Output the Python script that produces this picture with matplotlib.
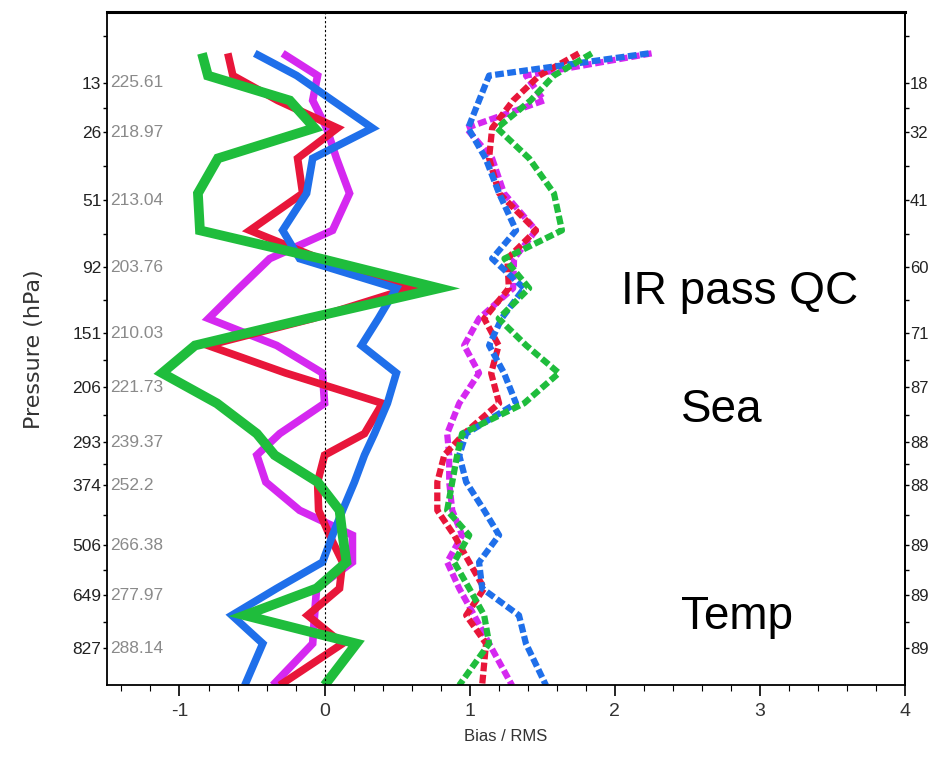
import matplotlib
matplotlib.use("Agg")
import matplotlib.pyplot as plt
import numpy as np

# vertical position of each profile point (0 = bottom of plot, 100 = top)
lev = [93.9, 90.6, 86.9, 82.8, 78.3, 73.1, 67.6, 63.4, 59.0, 54.5, 50.5, 46.4,
       41.9, 37.4, 34.2, 30.2, 26.0, 22.3, 18.3, 14.4, 10.4, 6.2, 0.0]

# labelled levels
lab_pos = [89.5, 82.2, 72.1, 62.1, 52.3, 44.3, 36.1, 29.7, 20.8, 13.4, 5.5]
pressure = ["13", "26", "51", "92", "151", "206", "293", "374", "506", "649", "827"]
mean_val = ["225.61", "218.97", "213.04", "203.76", "210.03", "221.73",
            "239.37", "252.2", "266.38", "277.97", "288.14"]
counts = ["18", "32", "41", "60", "71", "87", "88", "88", "89", "89", "89"]

# bias (solid)
bias_magenta = [-0.289, -0.048, -0.082, 0.014, 0.082, 0.172, 0.055, -0.378, -0.59, -0.80,
                -0.33, -0.014, 0.0, -0.309, -0.467, -0.405, -0.172, 0.192, 0.192,
                -0.055, -0.069, -0.082, -0.357]
bias_red = [-0.667, -0.632, -0.323, 0.089, -0.186, -0.151, -0.515, -0.034, 0.584, -0.082,
            -0.804, -0.268, 0.399, 0.275, 0.0, -0.048, -0.041, 0.034, 0.124, 0.103,
            -0.117, 0.124, -0.309]
bias_blue = [-0.481, -0.192, 0.055, 0.33, -0.082, -0.124, -0.289, -0.172, 0.495, 0.371,
             0.254, 0.495, 0.433, 0.344, 0.275, 0.206, 0.124, 0.055, -0.014, -0.33,
             -0.639, -0.426, -0.55]
bias_green = [-0.845, -0.804, -0.24, -0.069, -0.735, -0.873, -0.859, -0.027, 0.79, -0.117,
              -0.893, -1.12, -0.742, -0.467, -0.344, -0.048, 0.103, 0.124, 0.151,
              -0.055, -0.55, 0.22, 0.0]

# rms (dashed)
rms_magenta = [2.254, 1.388, 1.512, 0.976, 1.155, 1.237, 1.457, 1.306, 1.30, 1.065,
               0.962, 1.065, 0.928, 0.845, 0.859, 0.859, 0.88, 0.948, 0.845, 0.928,
               1.031, 1.134, 1.292]
rms_red = [1.753, 1.480, 1.300, 1.155, 1.134, 1.203, 1.457, 1.260, 1.270, 1.100,
           1.200, 1.148, 1.203, 0.962, 0.825, 0.777, 0.777, 0.893, 0.997, 1.1,
           0.976, 1.113, 1.086]
rms_blue = [2.234, 1.134, 1.065, 0.990, 1.110, 1.203, 1.32, 1.155, 1.375, 1.220,
            1.134, 1.237, 1.32, 0.976, 0.928, 0.976, 1.1, 1.203, 1.065, 1.086,
            1.34, 1.388, 1.526]
rms_green = [1.842, 1.580, 1.420, 1.189, 1.410, 1.581, 1.636, 1.240, 1.410, 1.200,
             1.390, 1.615, 1.375, 0.948, 0.914, 0.88, 0.845, 0.997, 0.893, 0.997,
             1.1, 1.134, 0.928]

c_mag = "#d528f0"
c_red = "#e8163a"
c_blue = "#1f6fea"
c_green = "#1fbd3c"

narrow = ["DejaVu Sans Condensed", "Liberation Sans Narrow", "Liberation Sans"]

fig = plt.figure(figsize=(9.3, 7.7), dpi=100)
ax = fig.add_axes([0.115, 0.110, 0.858, 0.874])

dash = (0, (1.4, 0.55))
for x, c in zip([rms_magenta, rms_red, rms_blue, rms_green], [c_mag, c_red, c_blue, c_green]):
    ax.plot(x, lev, color=c, lw=4.5, linestyle=dash, solid_joinstyle="round")

for x, c, w in zip([bias_magenta, bias_red, bias_blue, bias_green],
                   [c_mag, c_red, c_blue, c_green], [5.5, 5.5, 5.5, 7]):
    ax.plot(x, lev, color=c, lw=w, solid_joinstyle="miter", solid_capstyle="butt")

ax.axvline(0, color="k", lw=0.8, linestyle=(0, (2, 2)))

ax.set_xlim(-1.5, 4)
ax.set_ylim(0, 100)

ax.set_xticks([-1, 0, 1, 2, 3, 4])
ax.set_xticklabels(["-1", "0", "1", "2", "3", "4"], family=narrow, fontsize=14, color="#333333")
ax.set_xticks(np.arange(-1.4, 4.01, 0.2), minor=True)
ax.tick_params(axis="x", which="major", length=8, width=1.2, direction="out", pad=5)
ax.tick_params(axis="x", which="minor", length=4, width=0.8, direction="out")

ax.set_yticks(lab_pos)
ax.set_yticklabels(pressure, family=narrow, fontsize=12.5, color="#222222")
mids = list(np.array(lab_pos[:-1]) - np.diff(lab_pos) / -2) + [96.5]
ax.set_yticks(mids, minor=True)
ax.tick_params(axis="y", which="both", length=3, width=1, direction="out", pad=1)

for p, s in zip(lab_pos, mean_val):
    ax.text(0.004, p, s, transform=ax.get_yaxis_transform(), ha="left", va="center",
            family=narrow, fontsize=12.5, color="#8a8a8a")

sec = ax.secondary_yaxis("right")
sec.set_yticks(lab_pos)
sec.set_yticklabels(counts, family=narrow, fontsize=12, color="#222222")
sec.set_yticks(mids, minor=True)
sec.tick_params(axis="y", which="both", length=3, width=1, direction="out", pad=0.5)

for s in ["left", "bottom", "right"]:
    ax.spines[s].set_linewidth(1.3)
ax.spines["top"].set_linewidth(2.2)
sec.spines["right"].set_linewidth(1.3)

ax.set_xlabel("Bias / RMS", family=narrow, fontsize=12, color="#333333", labelpad=6)
ax.set_ylabel("Pressure (hPa)", family="DejaVu Sans", fontsize=16, color="#333333", labelpad=20)

ax.text(0.793, 0.585, "IR pass QC", transform=ax.transAxes, ha="center", va="center",
        family="Liberation Sans", fontsize=33)
ax.text(0.771, 0.409, "Sea", transform=ax.transAxes, ha="center", va="center",
        family="Liberation Sans", fontsize=33)
ax.text(0.789, 0.101, "Temp", transform=ax.transAxes, ha="center", va="center",
        family="Liberation Sans", fontsize=33)

fig.savefig("out.png", dpi=100)
